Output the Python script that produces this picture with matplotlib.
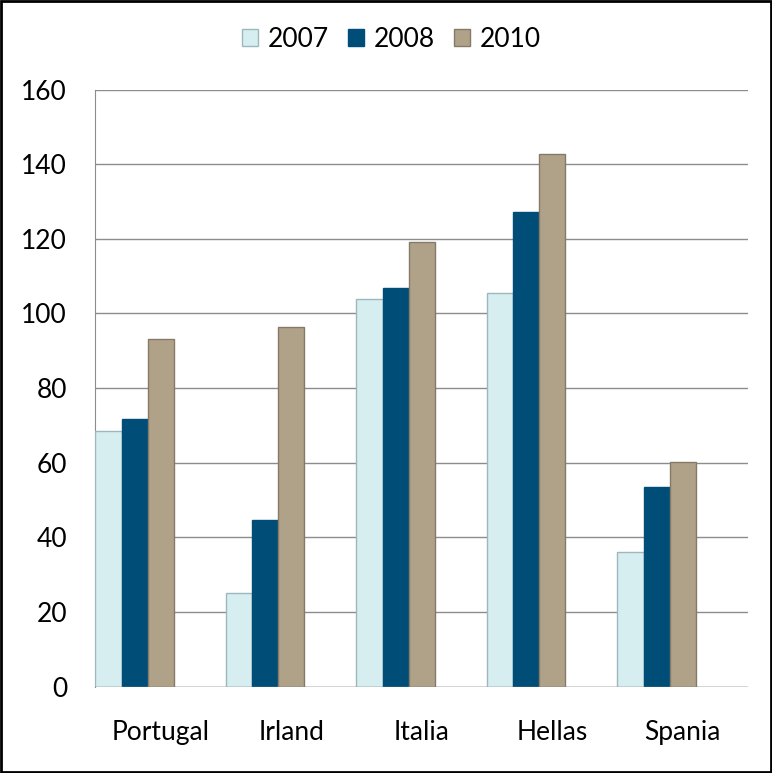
import numpy as np
import matplotlib
matplotlib.use("Agg")
from matplotlib import pyplot as plt
from matplotlib.patches import Rectangle

countries = ['Portugal', 'Irland', 'Italia', 'Hellas', 'Spania']
years = ['2007', '2008', '2010']
v2007 = [68.5, 25.2, 103.9, 105.5, 36.2]
v2008 = [71.7, 44.6, 106.8, 127.2, 53.4]
v2010 = [93.2, 96.4, 119.2, 142.8, 60.1]
yticks = [0, 20, 40, 60, 80, 100, 120, 140, 160]

faces = ['#d7eef0', '#004e78', '#b0a288']
edges = ['#9db8bd', '#004e78', '#857a68']

plt.rcParams['font.family'] = ['Lato', 'DejaVu Sans']

fig = plt.figure(figsize=(7.72, 7.73), dpi=100, facecolor='w')
ax = fig.add_axes([0.1237, 0.1116, 0.8452, 0.7726])

x = np.arange(len(countries))
w = 0.2
for k, vals in enumerate([v2007, v2008, v2010]):
    ax.bar(x - 0.5 + w * (k + 0.5), vals, w, color=faces[k], edgecolor=edges[k],
           linewidth=1, label=years[k], zorder=3)

ax.set_xlim(-0.5, len(countries) - 0.5)
ax.set_ylim(0, 160)
ax.set_yticks(yticks)
ax.set_yticklabels([str(t) for t in yticks], fontsize=19)
ax.set_xticks(x)
ax.set_xticklabels(countries, fontsize=19)
ax.tick_params(axis='y', length=0, pad=20.5)
ax.tick_params(axis='x', length=0, pad=24)
ax.grid(axis='y', color='#8c8c8c', linewidth=1, zorder=0)
for s in ['top', 'right', 'bottom']:
    ax.spines[s].set_visible(False)
ax.spines['left'].set_color('#8c8c8c')
ax.axhline(0, color='#8c8c8c', linewidth=1, zorder=4)

fig.legend(loc='center', bbox_to_anchor=(0.507, 0.949), ncol=3, frameon=False,
           fontsize=19, handlelength=0.6, handleheight=0.6, handletextpad=0.35,
           columnspacing=0.75)

fig.patches.append(Rectangle((0.0015, 0.0015), 0.997, 0.997, transform=fig.transFigure,
                             fill=False, edgecolor='black', linewidth=2))

plt.savefig('out.png', dpi=100)
